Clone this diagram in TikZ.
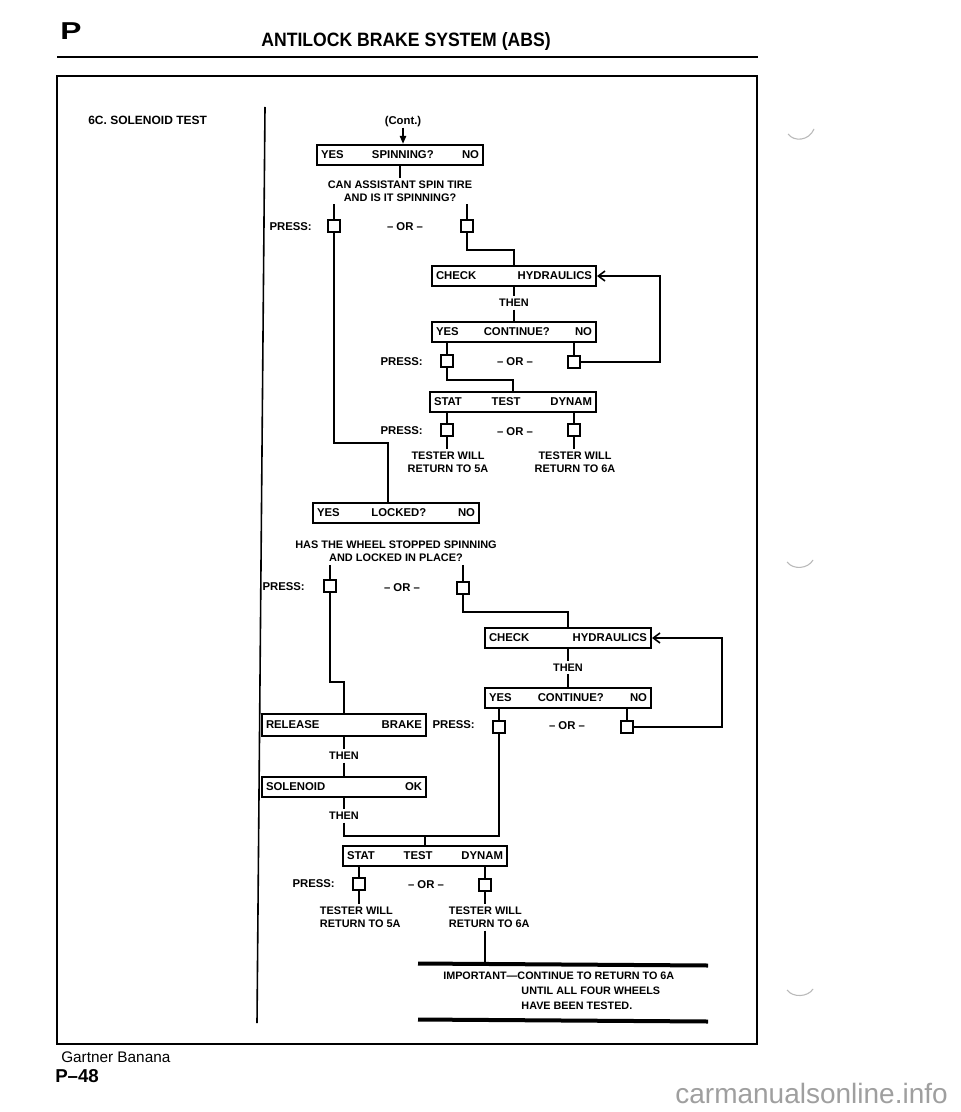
\documentclass[tikz,border=0pt]{standalone}
\usepackage{fontspec}
\setmainfont{Liberation Sans}
\usetikzlibrary{arrows.meta}
\newcommand\threew[4]{\hbox to \dimexpr #1pt*3/4\relax{\hspace{3pt}#2\hfill #3\hfill #4\hspace{3pt}}}
\newcommand\twow[3]{\hbox to \dimexpr #1pt*3/4\relax{\hspace{3pt}#2\hfill #3\hspace{3pt}}}
\begin{document}
\begin{tikzpicture}[x=0.75pt,y=-0.75pt,
  conn/.style={line width=1.5pt},
  bbox/.style={draw,line width=1.5pt,inner sep=0pt,minimum height=15pt,font=\fontsize{8.5}{10}\selectfont\bfseries},
  sq/.style={draw,line width=1.1pt,minimum size=9pt,inner sep=0pt},
  ftxt/.style={inner sep=2pt,font=\fontsize{8.2}{9.75}\selectfont\bfseries,align=center},
  lbl/.style={inner sep=0pt,font=\fontsize{8.5}{10}\selectfont\bfseries},
  loopar/.style={conn,-{Straight Barb[length=5pt,width=7.5pt,line width=1.2pt]}},
  scanmark/.style={gray!55,line width=0.8pt}
]
\path[use as bounding box,fill=white] (0,0) rectangle (960,1112);

% header
\node[font=\fontsize{18.3}{20}\selectfont\bfseries,anchor=base west,inner sep=0pt] (hp) at (60,39.5) {\scalebox{1.3}[1]{P}};
\node[font=\fontsize{14.5}{16}\selectfont\bfseries,anchor=base,inner sep=0pt] (title) at (406,47) {\scalebox{0.91}[1]{ANTILOCK BRAKE SYSTEM (ABS)}};
\draw[line width=1.6pt] (57,57) -- (758,57);
\draw[line width=0.9pt] (57,76) rectangle (757,1044);
\node[font=\fontsize{9}{10}\selectfont\bfseries,anchor=west,inner sep=0pt] (head) at (88,120) {6C. SOLENOID TEST};
\draw[line width=1.2pt] (265,107) -- (257,1023);

% first block
\node[lbl] (cont) at (403,122) {(Cont.)};
\node[bbox] (spin) at (400,155) {\threew{166}{YES}{SPINNING?}{NO}};
\node[ftxt] (q1) at (400,191) {CAN ASSISTANT SPIN TIRE\\AND IS IT SPINNING?};
\node[sq] (p1a) at (334,226) {};
\node[sq] (p1b) at (467,226) {};
\node[lbl,anchor=east] (pr1) at (312,227) {PRESS:};
\node[lbl] (or1) at (405,227) {-- OR --};
\node[bbox] (check1) at (514,276) {\twow{164}{CHECK}{HYDRAULICS}};
\node[ftxt] (then1) at (514,303) {THEN};
\node[bbox] (cont1) at (514,332) {\threew{164}{YES}{CONTINUE?}{NO}};
\node[sq] (p2a) at (447,361) {};
\node[sq] (p2b) at (574,362) {};
\node[lbl,anchor=east] (pr2) at (423,362) {PRESS:};
\node[lbl] (or2) at (515,362) {-- OR --};
\node[bbox] (stat1) at (513,402) {\threew{166}{STAT}{TEST}{DYNAM}};
\node[sq] (p3a) at (447,430) {};
\node[sq] (p3b) at (574,430) {};
\node[lbl,anchor=east] (pr3) at (423,431) {PRESS:};
\node[lbl] (or3) at (515,432) {-- OR --};
\node[ftxt] (t1) at (448,462.5) {TESTER WILL\\RETURN TO 5A};
\node[ftxt] (t2) at (575,462.5) {TESTER WILL\\RETURN TO 6A};

\coordinate (j1) at (388,443);
\coordinate (j2) at (514,250);
\coordinate (j3) at (660,362);
\coordinate (j4) at (513,380);

\draw[conn,-{Triangle[length=6pt,width=4.5pt]}] (cont) -- (cont |- spin.north);
\draw[conn] (spin) -- (q1);
\draw[conn] (q1.south -| p1a) -- (p1a);
\draw[conn] (q1.south -| p1b) -- (p1b);
\draw[conn] (p1b) |- (j2) -- (check1);
\draw[conn] (check1) -- (then1) -- (cont1);
\draw[conn] (cont1.south -| p2a) -- (p2a);
\draw[conn] (cont1.south -| p2b) -- (p2b);
\draw[loopar] (p2b) -- (j3) |- (check1);
\draw[conn] (p2a) |- (j4) -- (stat1);
\draw[conn] (stat1.south -| p3a) -- (p3a);
\draw[conn] (stat1.south -| p3b) -- (p3b);
\draw[conn] (p3a) -- (p3a |- t1.north);
\draw[conn] (p3b) -- (p3b |- t2.north);

% second block
\node[bbox] (locked) at (396,513) {\threew{166}{YES}{LOCKED?}{NO}};
\draw[conn] (p1a) |- (j1) -- (j1 |- locked.north);
\node[ftxt] (q2) at (396,551.5) {HAS THE WHEEL STOPPED SPINNING\\AND LOCKED IN PLACE?};
\node[sq] (p4a) at (330,586) {};
\node[sq] (p4b) at (463,588) {};
\node[lbl,anchor=east] (pr4) at (305,587) {PRESS:};
\node[lbl] (or4) at (402,588) {-- OR --};
\node[bbox] (check2) at (568,638) {\twow{166}{CHECK}{HYDRAULICS}};
\node[ftxt] (then2) at (568,667.5) {THEN};
\node[bbox] (cont2) at (568,698) {\threew{166}{YES}{CONTINUE?}{NO}};
\node[sq] (p5a) at (499,727) {};
\node[sq] (p5b) at (627,727) {};
\node[lbl,anchor=east] (pr5) at (475,725) {PRESS:};
\node[lbl] (or5) at (567,726) {-- OR --};
\node[bbox,minimum height=16.5pt] (release) at (344,725) {\twow{164}{RELEASE}{BRAKE}};
\node[ftxt] (then3) at (344,756) {THEN};
\node[bbox] (sol) at (344,787) {\twow{164}{SOLENOID}{OK}};
\node[ftxt] (then4) at (344,816) {THEN};
\node[bbox] (stat2) at (425,856) {\threew{164}{STAT}{TEST}{DYNAM}};
\node[sq] (p6a) at (359,884) {};
\node[sq] (p6b) at (485,885) {};
\node[lbl,anchor=east] (pr6) at (335,884) {PRESS:};
\node[lbl] (or6) at (426,885) {-- OR --};
\node[ftxt,align=left,anchor=north west] (t3) at (317,904) {TESTER WILL\\RETURN TO 5A};
\node[ftxt,align=left,anchor=north west] (t4) at (446,904) {TESTER WILL\\RETURN TO 6A};

\coordinate (j5) at (344,682);
\coordinate (j6) at (568,612);
\coordinate (j7) at (722,727);
\coordinate (j8) at (499,836);
\coordinate (j9) at (425,836);
\coordinate (r1w) at (418,963.5);
\coordinate (r1e) at (708,965.5);
\coordinate (r2w) at (418,1019.5);
\coordinate (r2e) at (708,1021.5);

\draw[conn] (q2.south -| p4a) -- (p4a);
\draw[conn] (q2.south -| p4b) -- (p4b);
\draw[conn] (p4a) |- (j5) -- (release);
\draw[conn] (p4b) |- (j6) -- (check2);
\draw[conn] (check2) -- (then2) -- (cont2);
\draw[conn] (cont2.south -| p5a) -- (p5a);
\draw[conn] (cont2.south -| p5b) -- (p5b);
\draw[loopar] (p5b) -- (j7) |- (check2);
\draw[conn] (release) -- (then3) -- (sol) -- (then4);
\draw[conn] (then4) |- (j8) -- (p5a);
\draw[conn] (j9) -- (stat2);
\draw[conn] (stat2.south -| p6a) -- (p6a);
\draw[conn] (stat2.south -| p6b) -- (p6b);
\draw[conn] (p6a) -- (p6a |- t3.north);
\draw[conn] (p6b) -- (p6b |- t4.north);
\draw[conn] (t4.south -| p6b) -- (p6b |- r1w);

\draw[line width=3pt] (r1w) -- (r1e);
\draw[line width=3pt] (r2w) -- (r2e);
\node[anchor=north west,inner sep=0pt,align=left,font=\fontsize{8.1}{11.25}\selectfont\bfseries] (imp) at (443,972)
 {IMPORTANT---CONTINUE TO RETURN TO 6A\\\hphantom{IMPORTANT---}\hspace{3pt}UNTIL ALL FOUR WHEELS\\\hphantom{IMPORTANT---}\hspace{3pt}HAVE BEEN TESTED.};

% margin marks
\draw[scanmark] (788,134) .. controls (794,142) and (809,141) .. (814,129);
\draw[scanmark] (787,562) .. controls (793,570) and (808,569) .. (813,560);
\draw[scanmark] (787,990) .. controls (793,998) and (808,997) .. (813,989);

% footer
\node[font=\fontsize{11.5}{13}\selectfont,anchor=base west,inner sep=0pt] (gb) at (61,1062) {Gartner Banana};
\node[font=\fontsize{14}{16}\selectfont\bfseries,anchor=base west,inner sep=0pt] (pg) at (55,1082) {P--48};
\node[font=\fontsize{21}{23}\selectfont,text=gray!75,anchor=base east,inner sep=0pt] (wm) at (948,1103) {carmanualsonline.info};
\end{tikzpicture}
\end{document}
